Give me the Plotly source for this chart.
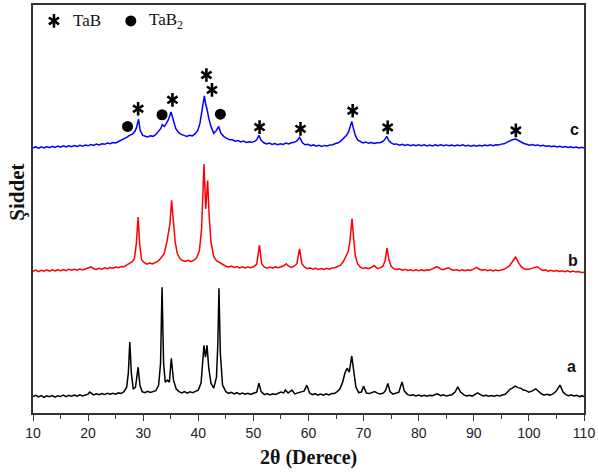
import plotly.graph_objects as go

# XRD patterns: (2theta, intensity) with intensity in arbitrary units
pattern_a = [
(10,16.5),(10.5,17.8),(11,16.2),(11.5,17.5),(12,15.8),(12.5,17.2),(13,16.4),(13.5,17.6),(14,16.0),(14.5,17.4),
(15,16.6),(15.5,17.9),(16,16.5),(16.5,17.8),(17,16.8),(17.5,18.0),(18,17.0),(18.5,18.2),(19,17.2),(19.5,18.5),
(20,19.0),(20.3,21.0),(20.7,19.2),(21,18.2),(21.5,19.4),(22,18.3),(22.5,19.6),(23,18.6),(23.5,19.8),(24,18.8),
(24.5,19.9),(25,19.0),(25.5,20.2),(26,19.6),(26.5,21.5),(27,26),(27.3,40),(27.57,71.3),(27.85,40),(28.2,24),
(28.6,26),(29.08,46),(29.4,28),(29.8,21.5),(30.3,20.5),(30.8,21.8),(31.3,20.6),(31.8,21.9),(32.3,22.5),(32.8,28),
(33.15,50),(33.42,126.3),(33.7,50),(34.0,31),(34.4,33),(34.75,31),(35.1,55),(35.5,33),(36.0,24),(36.5,21.5),
(37,20.2),(37.5,21.5),(38,20.0),(38.5,21.3),(39,20.5),(39.5,21.8),(40,23),(40.5,30),(40.8,48),(41.03,68),
(41.3,56),(41.58,68),(41.9,45),(42.3,30),(42.8,25),(43.3,36),(43.55,70),(43.75,125.3),(44.0,60),(44.4,28),
(45,21.5),(45.5,19.8),(46,20.8),(46.5,19.2),(47,20.4),(47.5,18.9),(48,20.0),(48.5,18.8),(49,19.9),(49.5,18.6),
(50,19.8),(50.6,21),(51.0,30),(51.4,21.5),(52,18.5),(52.5,19.6),(53,18.2),(53.5,19.4),(54,18.6),(54.5,20),
(55,21),(55.5,20.2),(55.8,23),(56.3,20),(57.0,23),(57.5,19.2),(58,20.5),(58.5,21),(59.2,22),(59.7,28),
(60.2,20),(60.7,18.4),(61.2,19.4),(61.7,18.0),(62.2,19.0),(62.7,17.8),(63.2,19.2),(63.7,18.2),(64.2,19.6),(64.7,19.5),
(65.2,21.5),(65.7,24),(66.2,31),(66.6,40),(67.0,45),(67.4,41),(67.85,57.3),(68.2,40),(68.6,26),(69.1,20.5),
(69.6,21),(70.0,27),(70.5,20),(71,19.5),(71.5,20.5),(72.0,21.5),(72.5,20.0),(73,19.2),(73.6,20),(74.0,23),
(74.4,29.7),(74.8,21.5),(75.3,19),(75.8,19.8),(76.4,21),(76.97,31.3),(77.4,22),(78,18.5),(78.5,17.6),(79,18.4),
(79.5,17.2),(80,18.0),(80.5,16.9),(81,17.8),(81.5,16.8),(82,17.9),(82.5,17.4),(83,18.6),(83.4,19.2),(84,17.5),
(84.5,18.2),(85,17.0),(85.5,18.0),(86,18.4),(86.6,21),(87.1,26.3),(87.6,21),(88.2,18.2),(88.7,17.2),(89.2,17.9),
(89.7,17.0),(90.2,18.5),(90.7,20.2),(91.2,18.4),(91.7,17.1),(92.2,17.8),(92.7,16.8),(93.2,17.6),(93.7,16.9),(94.2,17.8),
(94.7,17.2),(95.2,18.0),(95.7,18.8),(96.2,21.5),(96.6,24),(97.0,25),(97.5,27),(98.0,25.5),(98.5,25),(99.0,23),
(99.5,22.5),(100.0,21),(100.5,22),(101.25,24.3),(101.8,21),(102.3,19),(102.8,18.2),(103.3,18.8),(103.8,18.0),(104.3,19),
(104.9,21.5),(105.65,28),(106.2,21),(106.7,18.5),(107.2,17.4),(107.7,18.2),(108.2,17.0),(108.7,17.8),(109.2,16.5),(109.7,17.4),(110,16.3)
]

pattern_b = [
(10,142.3),(10.5,143.6),(11,142.0),(11.5,143.4),(12,142.4),(12.5,143.8),(13,142.6),(13.5,143.9),(14,142.8),(14.5,144.0),
(15,143.0),(15.5,144.2),(16,143.1),(16.5,144.3),(17,143.4),(17.5,144.5),(18,143.5),(18.5,144.6),(19,143.8),(19.5,144.8),
(20,145.5),(20.5,146.8),(21,145.0),(21.5,144.2),(22,145.5),(22.5,144.6),(23,145.9),(23.5,145.0),(24,146.2),(24.5,145.5),
(25,146.6),(25.5,146.0),(26,147.2),(26.5,147.0),(27,148.5),(27.5,150),(28,152),(28.4,155),(28.75,170),(29.08,197),
(29.35,170),(29.7,154),(30.2,151),(30.7,149.5),(31.2,150.8),(31.7,149.8),(32.2,151),(32.7,152.5),(33.1,155),(33.4,157),
(33.8,160),(34.3,172),(34.6,180),(34.85,190),(35.15,213.7),(35.5,190),(35.8,172),(36.2,160),(36.7,155),(37.2,153),
(37.7,152.5),(38.2,153.5),(38.7,152),(39.2,153.5),(39.7,156),(40.2,163),(40.6,185),(41.03,250.3),(41.35,205),(41.7,233.7),
(41.95,200),(42.3,172),(42.8,157),(43.3,153),(43.6,152),(44.0,150),(44.5,148.5),(45,147.5),(45.5,146.5),
(46,147.6),(46.5,146.2),(47,147.2),(47.5,145.8),(48,146.9),(48.5,145.7),(49,146.8),(49.5,146.0),(50,147.0),(50.6,149.5),
(51.1,168.7),(51.5,150),(52,146.5),(52.5,145.6),(53,146.6),(53.5,145.5),(54,146.8),(54.5,146.0),(55,147.2),(55.5,148),
(55.95,150),(56.4,147.5),(56.9,146.2),(57.4,147.5),(57.9,150),(58.37,165),(58.8,150),(59.3,146.5),(59.8,145.0),(60.3,145.8),
(60.8,144.4),(61.3,145.4),(61.8,144.2),(62.3,145.2),(62.8,144.3),(63.3,145.4),(63.8,144.6),(64.3,145.8),(64.8,146.0),(65.3,147.0),
(65.8,148.5),(66.3,152),(66.7,156),(67.2,162),(67.5,172),(67.9,195.3),(68.2,175),(68.5,158),(68.9,150),(69.4,146.5),
(69.9,145.2),(70.4,146.0),(70.9,145.0),(71.4,146.2),(71.96,148),(72.5,145.2),(73.0,145.8),(73.5,147.5),(73.9,153),(74.25,165.7),
(74.6,154),(75.0,147.5),(75.5,145.0),(76,144.2),(76.5,145.0),(77,143.6),(77.5,144.4),(78,143.2),(78.5,144.0),(79,143.0),
(79.5,143.9),(80,143.0),(80.5,143.8),(81,143.1),(81.5,144.0),(82,143.6),(82.6,145),(83.3,147),(83.9,145),(84.4,144),
(84.9,145.0),(85.4,146.0),(85.9,144.2),(86.4,143.4),(86.9,144.0),(87.4,143.0),(87.9,143.8),(88.4,142.9),(88.9,143.8),(89.4,143.2),
(89.9,144.5),(90.5,146.3),(91.0,144.5),(91.5,143.6),(92,144.2),(92.5,143.0),(93,143.8),(93.5,142.8),(94,143.6),(94.5,143.0),
(95,143.8),(95.5,144.4),(96,146),(96.5,148),(97.0,152),(97.6,157),(98.1,151),(98.6,147),(99.1,145),(99.6,144.2),
(100.1,144.6),(100.6,145.5),(101.0,146.5),(101.5,147),(102.0,145),(102.5,143.2),(103,143.8),(103.5,142.6),(104,143.4),(104.5,142.4),
(105,143.2),(105.5,142.2),(106,143.0),(106.5,142.0),(107,142.8),(107.5,141.8),(108,142.6),(108.5,141.6),(109,142.2),(109.5,141.2),(110,141.5)
]

pattern_c = [
(10,266.3),(10.5,267.6),(11,266.0),(11.5,267.5),(12,266.4),(12.5,267.8),(13,266.6),(13.5,268.0),(14,266.9),(14.5,268.2),
(15,267.2),(15.5,268.4),(16,267.3),(16.5,268.6),(17,267.5),(17.5,268.8),(18,267.8),(18.5,269.0),(19,268.0),(19.5,269.3),
(20,268.5),(20.5,269.8),(21,268.9),(21.5,270.2),(22,269.4),(22.5,270.6),(23,270.0),(23.5,271.2),(24,270.6),(24.5,271.8),
(25,271.3),(25.5,272.8),(26,273.5),(26.5,275),(27,277),(27.5,279),(28.05,280.3),(28.5,283),(28.8,287),(29.15,295.3),
(29.45,284),(29.9,279),(30.3,278),(30.8,277.5),(31.3,278.5),(31.8,278),(32.3,280),(32.8,283),(33.2,286),(33.45,289.7),
(33.85,288),(34.2,291),(34.6,295),(35.05,302.5),(35.5,293),(35.9,286),(36.4,282),(36.9,280),(37.4,279),(37.9,278),
(38.4,279),(38.9,278.5),(39.4,280.5),(39.9,284),(40.3,291),(40.7,303),(41.1,318.7),(41.35,310),(41.6,305),(41.9,296),
(42.3,288),(42.8,281),(43.3,284),(43.7,288),(44.1,281),(44.7,277.5),(45.2,276),(45.7,274.5),(46.2,274.6),(46.7,273.2),
(47.2,273.8),(47.7,272.4),(48.2,273.2),(48.7,271.9),(49.2,272.6),(49.7,272.0),(50.2,273.0),(50.6,274.5),(51.0,279),(51.4,274),
(51.9,271.5),(52.4,270.4),(52.9,271.2),(53.4,269.8),(53.9,270.8),(54.4,269.6),(54.9,270.6),(55.4,269.8),(55.9,271.2),(56.4,270.4),
(56.9,271.5),(57.4,272),(57.9,273.5),(58.4,277),(58.9,271.5),(59.4,269.5),(59.9,270.0),(60.4,268.6),(60.9,269.4),(61.4,268.2),
(61.9,269.0),(62.4,267.9),(62.9,268.9),(63.4,268.4),(63.9,269.4),(64.4,269.6),(64.9,270.8),(65.4,271.5),(65.9,273.5),(66.4,276),
(66.9,279),(67.3,283),(67.6,288),(67.85,293),(68.1,287),(68.5,279),(68.9,274.5),(69.4,272.5),(69.9,271.4),(70.4,272.2),
(70.9,271.0),(71.4,271.8),(71.9,270.8),(72.4,271.6),(72.9,271.5),(73.4,272.5),(73.8,274.5),(74.2,278),(74.6,273.5),(75.0,271.5),
(75.5,270.0),(76,270.4),(76.5,269.2),(77,270.0),(77.5,268.9),(78,269.8),(78.5,268.7),(79,269.6),(79.5,268.6),(80,269.5),
(80.5,268.5),(81,269.4),(81.5,268.4),(82,269.2),(82.5,268.3),(83,269.4),(83.5,268.6),(84,269.6),(84.5,268.6),(85,269.4),
(85.5,268.5),(86,269.3),(86.5,268.4),(87,269.2),(87.5,268.5),(88,269.4),(88.5,268.3),(89,269.0),(89.5,268.2),(90,269.0),
(90.5,268.2),(91,269.1),(91.5,268.3),(92,269.2),(92.5,268.6),(93,269.5),(93.5,268.7),(94,269.5),(94.5,269.3),(95,270.2),
(95.5,270.5),(96,272),(96.5,273.5),(97.0,274.6),(97.6,275.3),(98.1,273.6),(98.6,272.0),(99.1,270.8),(99.6,270.0),(100.1,269.2),
(100.6,269.8),(101.1,268.8),(101.6,269.4),(102.1,268.4),(102.6,269.0),(103.1,268.0),(103.6,268.6),(104.1,267.6),(104.6,268.2),(105.1,267.3),
(105.6,268.0),(106.1,267.1),(106.6,267.8),(107.1,266.8),(107.6,267.5),(108.1,266.6),(108.6,267.3),(109.1,266.4),(109.6,267.0),(110,266.3)
]

# phase markers above pattern c
tab_marks_x = [29.08, 35.31, 41.47, 42.48, 51.12, 58.55, 68.02, 74.37, 97.63]
tab_marks_y = [305.7, 314.7, 339.7, 324.7, 287.3, 285.5, 303.7, 287.0, 284.0]
tab2_marks_x = [27.16, 33.42, 44.0]
tab2_marks_y = [288.0, 299.7, 300.3]

sample_labels = ["a", "b", "c"]
label_x = [107.8, 108.0, 108.2]
label_y = [47, 153, 285]

x_ticks = [10, 20, 30, 40, 50, 60, 70, 80, 90, 100, 110]

fig = go.Figure()
for pat, col in [(pattern_a, "black"), (pattern_b, "#ff0000"), (pattern_c, "#0000ff")]:
    xs, ys = zip(*pat)
    fig.add_trace(go.Scatter(x=list(xs), y=list(ys), mode="lines",
                             line=dict(color=col, width=1.5), showlegend=False,
                             hoverinfo="skip"))

def asterisk(xs, ys):
    for sym in ["y-up-open", "y-down-open"]:
        fig.add_trace(go.Scatter(x=xs, y=ys, mode="markers", showlegend=False,
                                 hoverinfo="skip",
                                 marker=dict(symbol=sym, size=8.5, color="black",
                                             line=dict(color="black", width=2.6))))

asterisk(tab_marks_x, tab_marks_y)
fig.add_trace(go.Scatter(x=tab2_marks_x, y=tab2_marks_y, mode="markers", showlegend=False,
                         hoverinfo="skip",
                         marker=dict(symbol="circle", size=11, color="black")))

# key in top-left corner
asterisk([13.8], [394])
fig.add_trace(go.Scatter(x=[27.75], y=[394], mode="markers", showlegend=False,
                         hoverinfo="skip",
                         marker=dict(symbol="circle", size=11, color="black")))
fig.add_annotation(x=16.9, y=394, text="TaB", showarrow=False, xanchor="left", yanchor="middle",
                   font=dict(family="Liberation Serif", size=17, color="#111"))
fig.add_annotation(x=30.65, y=394, text="TaB<sub>2</sub>", showarrow=False, xanchor="left", yanchor="middle",
                   font=dict(family="Liberation Serif", size=17, color="#111"))

for t, lx, ly in zip(sample_labels, label_x, label_y):
    fig.add_annotation(x=lx, y=ly, text="<b>%s</b>" % t, showarrow=False,
                       font=dict(family="Liberation Sans", size=16, color="#111"))

# axis titles
fig.add_annotation(xref="paper", yref="paper", x=0.5, y=-0.11, text="<b>2θ (Derece)</b>",
                   showarrow=False, yanchor="middle",
                   font=dict(family="Liberation Serif", size=20, color="#111"))
fig.add_annotation(xref="paper", yref="paper", x=-0.029, y=0.54, text="<b>Şiddet</b>",
                   showarrow=False, textangle=-90, xanchor="center", yanchor="middle",
                   font=dict(family="Liberation Serif", size=21, color="#111"))

fig.update_layout(
    width=598, height=476,
    margin=dict(l=33, r=13, t=3, b=63),
    paper_bgcolor="white", plot_bgcolor="white",
    showlegend=False,
)
fig.update_xaxes(range=[10, 110], tickvals=x_ticks, ticktext=[str(v) for v in x_ticks],
                 ticks="outside", ticklen=6, tickwidth=1.3, tickcolor="#333",
                 minor=dict(dtick=5, tick0=10, ticks="outside", ticklen=4, tickwidth=1.2, tickcolor="#333"),
                 showline=True, linecolor="#333", linewidth=1.5, mirror=True,
                 showgrid=False, zeroline=False,
                 tickfont=dict(family="Liberation Sans", size=14, color="#222"))
fig.update_yaxes(range=[0, 410], showticklabels=False, ticks="",
                 showline=True, linecolor="#333", linewidth=1.5, mirror=True,
                 showgrid=False, zeroline=False)

fig.write_html("out.html", config={"displayModeBar": False},
               post_script="document.body.style.margin='0';document.body.style.padding='0';")
